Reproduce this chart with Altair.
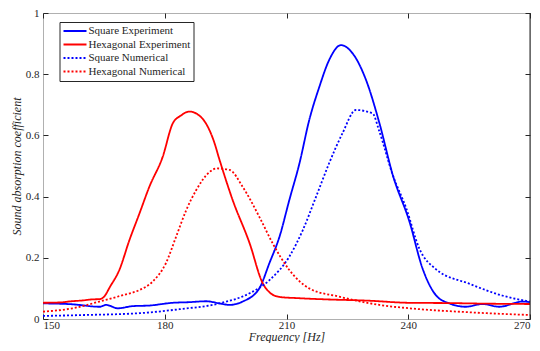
import altair as alt
import pandas as pd

# ---- data ----
sq_exp_f = [150, 157.3, 163.9, 165.6, 168.4, 172.1, 176.2, 182, 186, 190.2, 193.5, 196, 199.2,
            203.3, 205.8, 208.3, 210.7, 213.2, 215.6, 218.1, 220.5, 223.4, 226.3, 229.6, 232.9,
            236.2, 240.3, 243.5, 246.8, 250.1, 254.2, 258.3, 262.4, 268.2, 270]
sq_exp_v = [0.051, 0.048, 0.040, 0.046, 0.035, 0.042, 0.044, 0.053, 0.055, 0.058, 0.051, 0.046, 0.057,
            0.100, 0.183, 0.270, 0.389, 0.509, 0.650, 0.759, 0.846, 0.895, 0.868, 0.781, 0.640,
            0.470, 0.318, 0.166, 0.078, 0.051, 0.040, 0.049, 0.040, 0.057, 0.055]

hex_exp_f = [150, 154, 157, 160, 162, 164, 165, 166.5, 168.8, 171.3, 173.8, 176.2, 179.5, 182, 184,
             186, 188.5, 190.2, 192, 193.5, 196.7, 200.9, 204.1, 206, 208.3, 213, 220, 230, 240,
             250, 260, 270]
hex_exp_v = [0.053, 0.054, 0.058, 0.061, 0.064, 0.065, 0.072, 0.105, 0.160, 0.258, 0.346, 0.432, 0.530,
             0.640, 0.665, 0.678, 0.665, 0.638, 0.585, 0.520, 0.390, 0.248, 0.118, 0.085, 0.072, 0.068,
             0.064, 0.060, 0.053, 0.052, 0.050, 0.049]

sq_num_f = [150, 160, 173.8, 183.6, 193.5, 200.9, 205.8, 210.7, 214, 217.3, 220.5, 223.8, 227.1,
            231.2, 232.9, 236.2, 239.5, 242.7, 246.8, 255.1, 263.3, 270]
sq_num_v = [0.010, 0.013, 0.019, 0.032, 0.051, 0.084, 0.127, 0.204, 0.290, 0.400, 0.509, 0.607, 0.683,
            0.672, 0.612, 0.470, 0.362, 0.231, 0.163, 0.115, 0.076, 0.057]

hex_num_f = [150, 157.3, 163.9, 169.7, 173.8, 177, 180.3, 182.8, 185.3, 187.7, 191, 192.7, 196,
             199.2, 203.3, 206.6, 210.7, 215.6, 223, 232.9, 240.3, 255, 270]
hex_num_v = [0.024, 0.035, 0.057, 0.078, 0.095, 0.122, 0.183, 0.269, 0.356, 0.420, 0.480, 0.492, 0.487,
             0.432, 0.334, 0.247, 0.160, 0.100, 0.073, 0.046, 0.035, 0.022, 0.013]

series_names = ["Square Experiment", "Hexagonal Experiment", "Square Numerical", "Hexagonal Numerical"]
series_colors = ["#0000ff", "#ff0000", "#0000ff", "#ff0000"]
series_dash = [[1, 0], [1, 0], [2, 2], [2, 2]]

x_ticks = [150, 180, 210, 240, 270]
y_ticks = [0, 0.2, 0.4, 0.6, 0.8, 1]

rows = []
for name, fs, vs in zip(series_names,
                        [sq_exp_f, hex_exp_f, sq_num_f, hex_num_f],
                        [sq_exp_v, hex_exp_v, sq_num_v, hex_num_v]):
    for i, (f, v) in enumerate(zip(fs, vs)):
        rows.append({"series": name, "f": f, "v": v, "i": i})
df = pd.DataFrame(rows)

FONT = "Liberation Serif"
TICK = "#262626"

xscale = alt.Scale(domain=[150, 270], nice=False)
yscale = alt.Scale(domain=[0, 1], nice=False)

legend_common = dict(orient="none", legendX=16.5, legendY=9, title=None,
                     symbolType="stroke", symbolSize=529, symbolStrokeWidth=2, clipHeight=12)

lines = alt.Chart(df).mark_line(strokeWidth=1.8, interpolate="monotone").encode(
    x=alt.X("f:Q", scale=xscale,
            axis=alt.Axis(values=x_ticks, offset=-5, tickSize=5, domain=False, grid=False,
                          tickColor=TICK, labelPadding=0, labelFont=FONT, labelFontSize=11,
                          labelColor=TICK, title="Frequency [Hz]", titleFont=FONT,
                          titleFontStyle="italic", titleFontWeight="normal", titleFontSize=12,
                          titleColor=TICK, titleBaseline="alphabetic", titleX=243.5, titleY=26)),
    y=alt.Y("v:Q", scale=yscale,
            axis=alt.Axis(values=y_ticks, format="~g", offset=-5, tickSize=5, domain=False,
                          grid=False, tickColor=TICK, labelPadding=4, labelFont=FONT,
                          labelFontSize=11, labelColor=TICK,
                          title="Sound absorption coefficient", titleFont=FONT,
                          titleFontStyle="italic", titleFontWeight="normal", titleFontSize=12,
                          titleColor=TICK, titleBaseline="alphabetic", titleX=-28, titleY=153)),
    color=alt.Color("series:N", scale=alt.Scale(domain=series_names, range=series_colors),
                    legend=alt.Legend(labelFont=FONT, labelFontSize=11, labelColor=TICK,
                                      labelOffset=1, rowPadding=1.5, padding=3,
                                      fillColor="white", strokeColor="#262626",
                                      **legend_common)),
    strokeDash=alt.StrokeDash("series:N", scale=alt.Scale(domain=series_names, range=series_dash),
                              legend=alt.Legend(**legend_common)),
    detail="series:N",
    order="i:Q",
)

frame = alt.Chart(pd.DataFrame({"a": [0]})).mark_rule(color=TICK, strokeWidth=1).encode(
    x=alt.X(datum=270, type="quantitative", scale=xscale,
            axis=alt.Axis(orient="top", values=x_ticks, offset=-5, tickSize=5, domain=False,
                          labels=False, grid=False, tickColor=TICK, title=None)),
    y=alt.Y(datum=0, type="quantitative", scale=yscale,
            axis=alt.Axis(orient="right", values=y_ticks, offset=-5, tickSize=5, domain=False,
                          labels=False, grid=False, tickColor=TICK, title=None)),
    y2=alt.Y2(datum=1),
)

chart = alt.layer(lines, frame).resolve_axis(x="independent", y="independent").properties(
    width=487, height=306,
    background="white",
    autosize=alt.AutoSizeParams(type="none"),
    padding={"left": 35, "top": 5, "right": 2, "bottom": 24},
).configure(font=FONT).configure_view(stroke="#b0b0b0", strokeWidth=1)

chart.save("out.html", embed_options={"renderer": "svg", "actions": False})
